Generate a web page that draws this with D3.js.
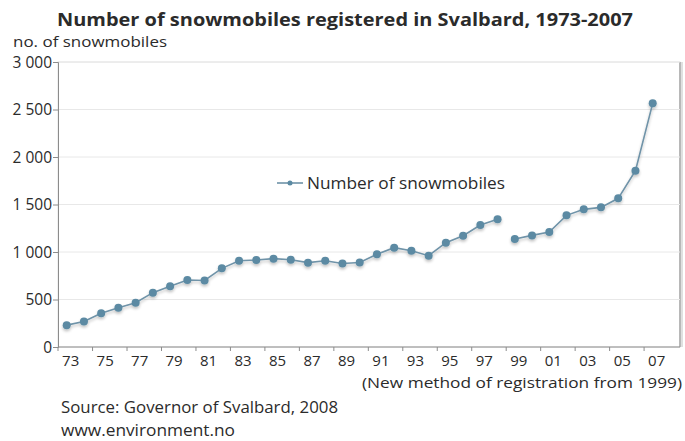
<!DOCTYPE html>
<html><head><meta charset="utf-8">
<script src="https://cdn.jsdelivr.net/npm/d3@7"></script>
<style>
body{margin:0;background:#fff;}
text{font-family:"Open Sans","Noto Sans",sans-serif;fill:#2b2b2b;}
</style></head>
<body><svg id="c" width="685" height="441"></svg>
<script>
const years = d3.range(1973, 2008);
const values = [230,268,355,414,466,572,639,705,700,828,908,916,930,919,888,908,879,889,976,1046,1014,961,1098,1172,1284,1344,1137,1175,1211,1386,1449,1470,1565,1856,2565];
const tickYears = [1973,1975,1977,1979,1981,1983,1985,1987,1989,1991,1993,1995,1997,1999,2001,2003,2005,2007];
const yTicks = [0,500,1000,1500,2000,2500,3000];
const breakYear = 1999;
const seriesName = "Number of snowmobiles";

const svg = d3.select("#c");
const L = 58, R = 680, T = 62, B = 347;
const x = d3.scalePoint().domain(years).range([66.7, 652.7]);
const step = x.step();
const y = d3.scaleLinear().domain([0,3000]).range([B, T]);
const fmt = v => v >= 1000 ? d3.format(",")(v).replace(",", " ") : String(v);

const defs = svg.append("defs");
const f = defs.append("filter").attr("id","sh").attr("x","-20%").attr("y","-20%").attr("width","140%").attr("height","140%");
f.append("feGaussianBlur").attr("in","SourceAlpha").attr("stdDeviation",1.5);
f.append("feOffset").attr("dx",0).attr("dy",2).attr("result","o");
f.append("feComponentTransfer").append("feFuncA").attr("type","linear").attr("slope",0.25);
const m = f.append("feMerge"); m.append("feMergeNode"); m.append("feMergeNode").attr("in","SourceGraphic");

svg.append("rect").attr("x",L).attr("y",T).attr("width",R-L).attr("height",B-T)
  .attr("fill","#fff").attr("stroke","#e4e4e4");
svg.append("line").attr("x1",R).attr("x2",R).attr("y1",T).attr("y2",B)
  .attr("stroke","#b8b8b8").attr("stroke-width",2);
svg.append("line").attr("x1",R+2).attr("x2",R+2).attr("y1",T).attr("y2",B)
  .attr("stroke","#e0e0e0").attr("stroke-width",2);

svg.append("g").selectAll("line").data(yTicks.filter(d=>d>0)).join("line")
  .attr("x1",L).attr("x2",R).attr("y1",d=>y(d)).attr("y2",d=>y(d))
  .attr("stroke","#e8e8e8");

const ya = svg.append("g").attr("transform",`translate(${L},0)`)
  .call(d3.axisLeft(y).tickValues(yTicks).tickFormat(fmt).tickSize(5).tickPadding(1));
ya.select(".domain").attr("stroke","#8c8c8c");
ya.selectAll(".tick line").attr("stroke","#8c8c8c");
ya.selectAll(".tick text").attr("font-size",15.5).attr("fill","#2b2b2b").attr("font-family","Open Sans").attr("dy","0.33em");

svg.append("line").attr("x1",L).attr("x2",R).attr("y1",B).attr("y2",B).attr("stroke","#8c8c8c");
svg.append("g").selectAll("line").data(years.filter(d=>d%2===0)).join("line")
  .attr("x1",d=>x(d)+step/2).attr("x2",d=>x(d)+step/2).attr("y1",B).attr("y2",B+4)
  .attr("stroke","#8c8c8c");
svg.append("line").attr("x1",L).attr("x2",L).attr("y1",B).attr("y2",B+4).attr("stroke","#8c8c8c");
svg.append("g").selectAll("text").data(tickYears).join("text")
  .attr("x",d=>x(d)+4).attr("y",B+18.5).attr("text-anchor","middle").attr("font-size",15)
  .text(d=>String(d).slice(2));

const pts = years.map((yr,i)=>({yr, v: values[i]}));
const segs = [pts.filter(d=>d.yr<breakYear), pts.filter(d=>d.yr>=breakYear)];
const line = d3.line().x(d=>x(d.yr)).y(d=>y(d.v));
const col = "#5b8aa3";
const g = svg.append("g").attr("filter","url(#sh)");
g.selectAll("path").data(segs).join("path").attr("d",line)
  .attr("fill","none").attr("stroke","#6f93a8").attr("stroke-width",1.6);
g.selectAll("circle").data(pts).join("circle")
  .attr("cx",d=>x(d.yr)).attr("cy",d=>y(d.v)).attr("r",4).attr("fill",col);

const lg = svg.append("g");
lg.append("line").attr("x1",277).attr("x2",303).attr("y1",183).attr("y2",183).attr("stroke","#6f93a8").attr("stroke-width",1.6);
lg.append("circle").attr("cx",290).attr("cy",183).attr("r",2.5).attr("fill",col);
lg.append("text").attr("x",307).attr("y",189).attr("font-size",16.5)
  .attr("textLength",198).attr("lengthAdjust","spacingAndGlyphs").text(seriesName);

svg.append("text").attr("x",345).attr("y",26).attr("text-anchor","middle")
  .attr("font-size",18).attr("font-weight","bold").attr("fill","#1a1a1a")
  .attr("textLength",576).attr("lengthAdjust","spacingAndGlyphs")
  .text("Number of snowmobiles registered in Svalbard, 1973-2007");
svg.append("text").attr("x",13).attr("y",46.5).attr("font-size",15)
  .attr("textLength",154).attr("lengthAdjust","spacingAndGlyphs").text("no. of snowmobiles");
svg.append("text").attr("x",362).attr("y",388).attr("font-size",15)
  .attr("textLength",320).attr("lengthAdjust","spacingAndGlyphs")
  .text("(New method of registration from 1999)");
svg.append("text").attr("x",61).attr("y",413).attr("font-size",16.5)
  .attr("textLength",277).attr("lengthAdjust","spacingAndGlyphs").text("Source: Governor of Svalbard, 2008");
svg.append("text").attr("x",61).attr("y",436).attr("font-size",16.5)
  .attr("textLength",174).attr("lengthAdjust","spacingAndGlyphs").text("www.environment.no");
</script></body></html>
